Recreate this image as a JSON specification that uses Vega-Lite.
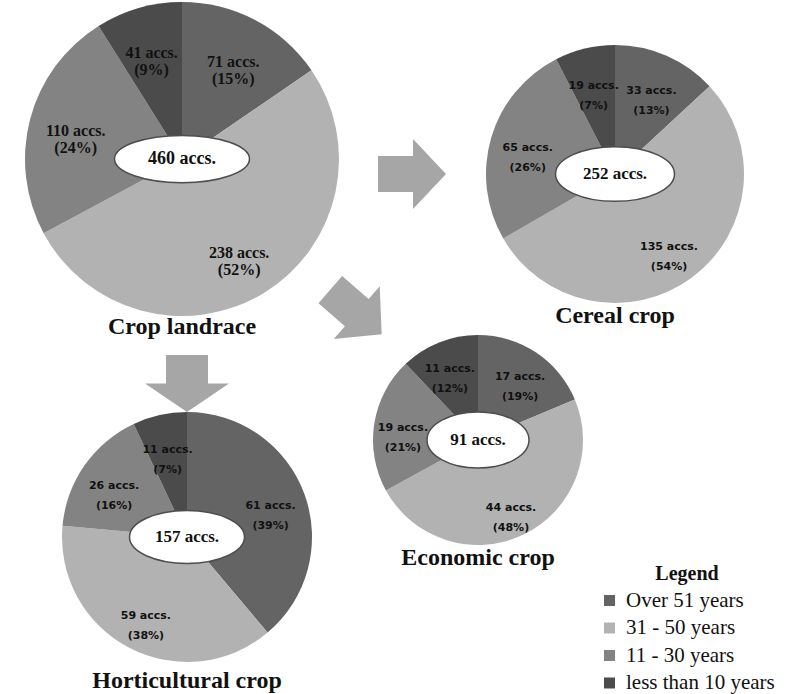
{
  "$schema": "https://vega.github.io/schema/vega-lite/v6.json",
  "padding": 0,
  "background": "white",
  "datasets": {
    "d": [
      {"crop": "Crop landrace", "age": "Over 51 years", "n": 71, "pct": 15},
      {"crop": "Crop landrace", "age": "31 - 50 years", "n": 238, "pct": 52},
      {"crop": "Crop landrace", "age": "11 - 30 years", "n": 110, "pct": 24},
      {"crop": "Crop landrace", "age": "less than 10 years", "n": 41, "pct": 9},
      {"crop": "Cereal crop", "age": "Over 51 years", "n": 33, "pct": 13},
      {"crop": "Cereal crop", "age": "31 - 50 years", "n": 135, "pct": 54},
      {"crop": "Cereal crop", "age": "11 - 30 years", "n": 65, "pct": 26},
      {"crop": "Cereal crop", "age": "less than 10 years", "n": 19, "pct": 7},
      {"crop": "Horticultural crop", "age": "Over 51 years", "n": 61, "pct": 39},
      {"crop": "Horticultural crop", "age": "31 - 50 years", "n": 59, "pct": 38},
      {"crop": "Horticultural crop", "age": "11 - 30 years", "n": 26, "pct": 16},
      {"crop": "Horticultural crop", "age": "less than 10 years", "n": 11, "pct": 7},
      {"crop": "Economic crop", "age": "Over 51 years", "n": 17, "pct": 19},
      {"crop": "Economic crop", "age": "31 - 50 years", "n": 44, "pct": 48},
      {"crop": "Economic crop", "age": "11 - 30 years", "n": 19, "pct": 21},
      {"crop": "Economic crop", "age": "less than 10 years", "n": 11, "pct": 12}
    ],
    "arrow": [{"arrow": "next"}]
  },
  "config": {
    "view": {"stroke": null},
    "title": {"font": "Liberation Serif", "fontSize": 24, "fontWeight": "bold", "color": "#111111"},
    "legend": {
      "symbolType": "square", "symbolSize": 121, "symbolStrokeWidth": 0, "symbolOpacity": 1,
      "labelFont": "Liberation Serif", "labelFontSize": 21, "labelColor": "#111111", "labelOffset": 6, "labelLimit": 300,
      "titleFont": "Liberation Serif", "titleFontSize": 20, "titleFontWeight": "bold", "titleColor": "#111111",
      "titlePadding": 6, "rowPadding": 5.5, "padding": 0
    }
  },
  "columns": 3,
  "spacing": 0,
  "bounds": "flush",
  "resolve": {"scale": {"theta": "independent", "x": "independent", "y": "independent"}},
  "concat": [
    {
      "width": 364, "height": 318,
      "title": {"text": "Crop landrace", "orient": "bottom", "offset": -24},
      "data": {"name": "d"},
      "transform": [
        {"filter": "datum.crop === 'Crop landrace'"},
        {"calculate": "indexof(['Over 51 years','31 - 50 years','11 - 30 years','less than 10 years'], datum.age)", "as": "k"},
        {"calculate": "datum.n + ' accs.\\n(' + datum.pct + '%)'", "as": "label"}
      ],
      "layer": [
        {
          "mark": {"type": "arc", "outerRadius": 157},
          "encoding": {
            "theta": {"field": "n", "type": "quantitative", "stack": true},
            "order": {"field": "k", "type": "quantitative"},
            "color": {"field": "age", "type": "nominal", "title": "Legend",
              "scale": {"domain": ["Over 51 years", "31 - 50 years", "11 - 30 years", "less than 10 years"], "range": ["#646464", "#b2b2b2", "#838383", "#4b4b4b"]},
              "legend": {"orient": "none", "legendX": 599, "legendY": 564, "titleAnchor": "middle"}}
          }
        },
        {
          "mark": {"type": "text", "radius": 110, "font": "Liberation Serif", "fontWeight": "bold", "fontSize": 16, "lineBreak": "\n", "lineHeight": 17, "color": "#111111"},
          "encoding": {
            "theta": {"field": "n", "type": "quantitative", "stack": true},
            "order": {"field": "k", "type": "quantitative"},
            "text": {"field": "label"}
          }
        },
        {
          "transform": [{"aggregate": [{"op": "sum", "field": "n", "as": "total"}]}],
          "mark": {"type": "point", "shape": "M -1 0 A 1 0.35 0 1 1 1 0 A 1 0.35 0 1 1 -1 0 Z", "size": 18225, "filled": true, "fill": "white", "opacity": 1, "fillOpacity": 1, "stroke": "#4d4d4d", "strokeWidth": 1.5},
          "encoding": {}
        },
        {
          "transform": [{"aggregate": [{"op": "sum", "field": "n", "as": "total"}]}, {"calculate": "datum.total + ' accs.'", "as": "tl"}],
          "mark": {"type": "text", "font": "Liberation Serif", "fontWeight": "bold", "fontSize": 18, "color": "#111111"},
          "encoding": {"text": {"field": "tl"}}
        },
        {
          "data": {"name": "arrow"},
          "mark": {"type": "point", "shape": "M -1 -0.53 L 0.03 -0.53 L 0.03 -1.03 L 1 0 L 0.03 1.03 L 0.03 0.53 L -1 0.53 Z", "size": 4624, "angle": 41, "filled": true, "fill": "#a6a6a6", "opacity": 1, "fillOpacity": 1, "strokeWidth": 0},
          "encoding": {
            "x": {"field": "arrow", "type": "nominal", "axis": null, "scale": {"align": 0.978}},
            "y": {"field": "arrow", "type": "nominal", "axis": null, "scale": {"align": 0.981}}
          }
        }
      ]
    },
    {
      "width": 76, "height": 348,
      "data": {"name": "arrow"},
      "mark": {"type": "point", "shape": "M -1 -0.53 L 0.03 -0.53 L 0.03 -1.03 L 1 0 L 0.03 1.03 L 0.03 0.53 L -1 0.53 Z", "size": 4624, "filled": true, "fill": "#a6a6a6", "opacity": 1, "fillOpacity": 1, "strokeWidth": 0},
      "encoding": {}
    },
    {
      "width": 66, "height": 348,
      "title": {"text": "Cereal crop", "orient": "bottom", "offset": -44},
      "data": {"name": "d"},
      "transform": [
        {"filter": "datum.crop === 'Cereal crop'"},
        {"calculate": "indexof(['Over 51 years','31 - 50 years','11 - 30 years','less than 10 years'], datum.age)", "as": "k"},
        {"calculate": "datum.n + ' accs.\\n(' + datum.pct + '%)'", "as": "label"}
      ],
      "layer": [
        {
          "mark": {"type": "arc", "outerRadius": 129},
          "encoding": {
            "theta": {"field": "n", "type": "quantitative", "stack": true},
            "order": {"field": "k", "type": "quantitative"},
            "color": {"field": "age", "type": "nominal", "title": "Legend",
              "scale": {"domain": ["Over 51 years", "31 - 50 years", "11 - 30 years", "less than 10 years"], "range": ["#646464", "#b2b2b2", "#838383", "#4b4b4b"]},
              "legend": {"orient": "none", "legendX": 599, "legendY": 564, "titleAnchor": "middle"}}
          }
        },
        {
          "mark": {"type": "text", "radius": 91, "font": "DejaVu Sans", "fontWeight": "bold", "fontSize": 11, "lineBreak": "\n", "lineHeight": 20, "color": "#111111"},
          "encoding": {
            "theta": {"field": "n", "type": "quantitative", "stack": true},
            "order": {"field": "k", "type": "quantitative"},
            "text": {"field": "label"}
          }
        },
        {
          "transform": [{"aggregate": [{"op": "sum", "field": "n", "as": "total"}]}],
          "mark": {"type": "point", "shape": "M -1 0 A 1 0.46 0 1 1 1 0 A 1 0.46 0 1 1 -1 0 Z", "size": 14161, "filled": true, "fill": "white", "opacity": 1, "fillOpacity": 1, "stroke": "#4d4d4d", "strokeWidth": 1.5},
          "encoding": {}
        },
        {
          "transform": [{"aggregate": [{"op": "sum", "field": "n", "as": "total"}]}, {"calculate": "datum.total + ' accs.'", "as": "tl"}],
          "mark": {"type": "text", "font": "Liberation Serif", "fontWeight": "bold", "fontSize": 17, "color": "#111111"},
          "encoding": {"text": {"field": "tl"}}
        }
      ]
    },
    {
      "width": 374, "height": 378,
      "title": {"text": "Horticultural crop", "orient": "bottom", "offset": -57},
      "data": {"name": "d"},
      "transform": [
        {"filter": "datum.crop === 'Horticultural crop'"},
        {"calculate": "indexof(['Over 51 years','31 - 50 years','11 - 30 years','less than 10 years'], datum.age)", "as": "k"},
        {"calculate": "datum.n + ' accs.\\n(' + datum.pct + '%)'", "as": "label"}
      ],
      "layer": [
        {
          "mark": {"type": "arc", "outerRadius": 125},
          "encoding": {
            "theta": {"field": "n", "type": "quantitative", "stack": true},
            "order": {"field": "k", "type": "quantitative"},
            "color": {"field": "age", "type": "nominal", "title": "Legend",
              "scale": {"domain": ["Over 51 years", "31 - 50 years", "11 - 30 years", "less than 10 years"], "range": ["#646464", "#b2b2b2", "#838383", "#4b4b4b"]},
              "legend": {"orient": "none", "legendX": 599, "legendY": 564, "titleAnchor": "middle"}}
          }
        },
        {
          "mark": {"type": "text", "radius": 89, "font": "DejaVu Sans", "fontWeight": "bold", "fontSize": 11, "lineBreak": "\n", "lineHeight": 20, "color": "#111111"},
          "encoding": {
            "theta": {"field": "n", "type": "quantitative", "stack": true},
            "order": {"field": "k", "type": "quantitative"},
            "text": {"field": "label"}
          }
        },
        {
          "transform": [{"aggregate": [{"op": "sum", "field": "n", "as": "total"}]}],
          "mark": {"type": "point", "shape": "M -1 0 A 1 0.46 0 1 1 1 0 A 1 0.46 0 1 1 -1 0 Z", "size": 13225, "filled": true, "fill": "white", "opacity": 1, "fillOpacity": 1, "stroke": "#4d4d4d", "strokeWidth": 1.5},
          "encoding": {}
        },
        {
          "transform": [{"aggregate": [{"op": "sum", "field": "n", "as": "total"}]}, {"calculate": "datum.total + ' accs.'", "as": "tl"}],
          "mark": {"type": "text", "font": "Liberation Serif", "fontWeight": "bold", "fontSize": 17, "color": "#111111"},
          "encoding": {"text": {"field": "tl"}}
        },
        {
          "data": {"name": "arrow"},
          "mark": {"type": "point", "shape": "M -0.5 -0.68 L 0.5 -0.68 L 0.5 0 L 1 0 L 0 0.68 L -1 0 L -0.5 0 Z", "size": 7056, "filled": true, "fill": "#a6a6a6", "opacity": 1, "fillOpacity": 1, "strokeWidth": 0},
          "encoding": {
            "y": {"field": "arrow", "type": "nominal", "axis": null, "scale": {"align": 0.094}}
          }
        }
      ]
    },
    {
      "width": 208, "height": 184,
      "title": {"text": "Economic crop", "orient": "bottom", "offset": 1},
      "data": {"name": "d"},
      "transform": [
        {"filter": "datum.crop === 'Economic crop'"},
        {"calculate": "indexof(['Over 51 years','31 - 50 years','11 - 30 years','less than 10 years'], datum.age)", "as": "k"},
        {"calculate": "datum.n + ' accs.\\n(' + datum.pct + '%)'", "as": "label"}
      ],
      "layer": [
        {
          "mark": {"type": "arc", "outerRadius": 105},
          "encoding": {
            "theta": {"field": "n", "type": "quantitative", "stack": true},
            "order": {"field": "k", "type": "quantitative"},
            "color": {"field": "age", "type": "nominal", "title": "Legend",
              "scale": {"domain": ["Over 51 years", "31 - 50 years", "11 - 30 years", "less than 10 years"], "range": ["#646464", "#b2b2b2", "#838383", "#4b4b4b"]},
              "legend": {"orient": "none", "legendX": 599, "legendY": 564, "titleAnchor": "middle"}}
          }
        },
        {
          "mark": {"type": "text", "radius": 76, "font": "DejaVu Sans", "fontWeight": "bold", "fontSize": 11, "lineBreak": "\n", "lineHeight": 20, "color": "#111111"},
          "encoding": {
            "theta": {"field": "n", "type": "quantitative", "stack": true},
            "order": {"field": "k", "type": "quantitative"},
            "text": {"field": "label"}
          }
        },
        {
          "transform": [{"aggregate": [{"op": "sum", "field": "n", "as": "total"}]}],
          "mark": {"type": "point", "shape": "M -1 0 A 1 0.55 0 1 1 1 0 A 1 0.55 0 1 1 -1 0 Z", "size": 10404, "filled": true, "fill": "white", "opacity": 1, "fillOpacity": 1, "stroke": "#4d4d4d", "strokeWidth": 1.5},
          "encoding": {}
        },
        {
          "transform": [{"aggregate": [{"op": "sum", "field": "n", "as": "total"}]}, {"calculate": "datum.total + ' accs.'", "as": "tl"}],
          "mark": {"type": "text", "font": "Liberation Serif", "fontWeight": "bold", "fontSize": 17, "color": "#111111"},
          "encoding": {"text": {"field": "tl"}}
        }
      ]
    }
  ]
}
